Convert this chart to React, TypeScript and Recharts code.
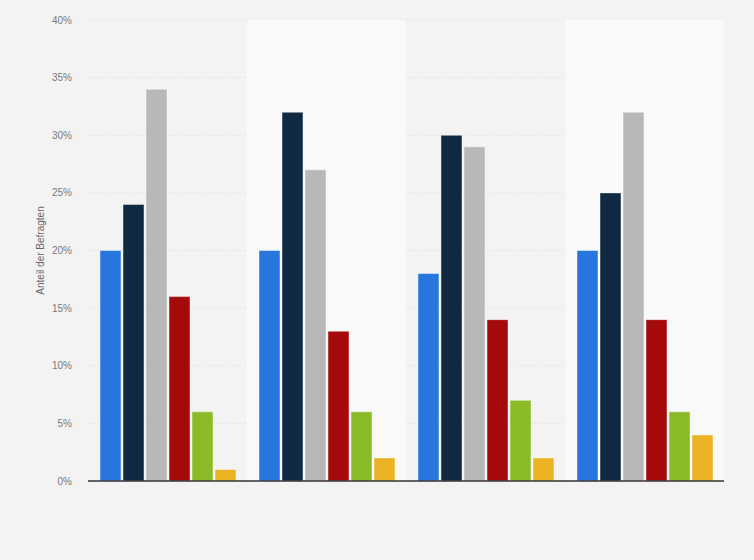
import { BarChart, Bar, XAxis, YAxis, CartesianGrid, ReferenceArea } from "recharts"

const categories = ["Gruppe 1", "Gruppe 2", "Gruppe 3", "Gruppe 4"]
const seriesNames = ["Serie 1", "Serie 2", "Serie 3", "Serie 4", "Serie 5", "Serie 6"]
const seriesColors = ["#2876dd", "#0f2a42", "#b8b8b8", "#a50a0a", "#8aba27", "#ebb324"]
const serie1 = [20, 20, 18, 20]
const serie2 = [24, 32, 30, 25]
const serie3 = [34, 27, 29, 32]
const serie4 = [16, 13, 14, 14]
const serie5 = [6, 6, 7, 6]
const serie6 = [1, 2, 2, 4]
const yTicks = [0, 5, 10, 15, 20, 25, 30, 35, 40]

const allSeries = [serie1, serie2, serie3, serie4, serie5, serie6]

const data = categories.map((name, i) => {
  const row: Record<string, string | number> = { name }
  seriesNames.forEach((s, j) => {
    row[s] = allSeries[j][i]
  })
  return row
})

const font = "'Liberation Sans', Arial, sans-serif"

export default function App() {
  return (
    <div style={{ position: "absolute", left: 0, top: 0, width: 754, height: 560, background: "#f3f3f3", fontFamily: font }}>
      <BarChart
        width={754}
        height={560}
        data={data}
        margin={{ top: 20, right: 30, bottom: 78, left: 0 }}
        barCategoryGap={12}
        barGap={2}
      >
        {categories.map((c, i) =>
          i % 2 === 1 ? (
            <ReferenceArea key={c} x1={c} x2={c} y1={0} y2={40} fill="#f9f9f9" fillOpacity={1} stroke="none" ifOverflow="extendDomain" />
          ) : null
        )}
        <CartesianGrid vertical={false} stroke="#dcdcdc" strokeDasharray="1 2" />
        <XAxis dataKey="name" tick={false} tickLine={false} height={1} axisLine={{ stroke: "#333", strokeWidth: 1.5 }} />
        <YAxis
          width={88}
          domain={[0, 40]}
          ticks={yTicks}
          tickFormatter={(v) => `${v}%`}
          axisLine={false}
          tickLine={false}
          tickSize={0}
          tickMargin={16}
          tick={{ fill: "#7a7a7a", fontSize: 10, fontFamily: font }}
          label={{ value: "Anteil der Befragten", angle: -90, position: "center", dx: -4, fill: "#666", fontSize: 10, fontFamily: font }}
        />
        {seriesNames.map((s, j) => (
          <Bar key={s} dataKey={s} fill={seriesColors[j]} stroke="rgba(255,255,255,0.45)" strokeWidth={1} isAnimationActive={false} />
        ))}
      </BarChart>
    </div>
  )
}
